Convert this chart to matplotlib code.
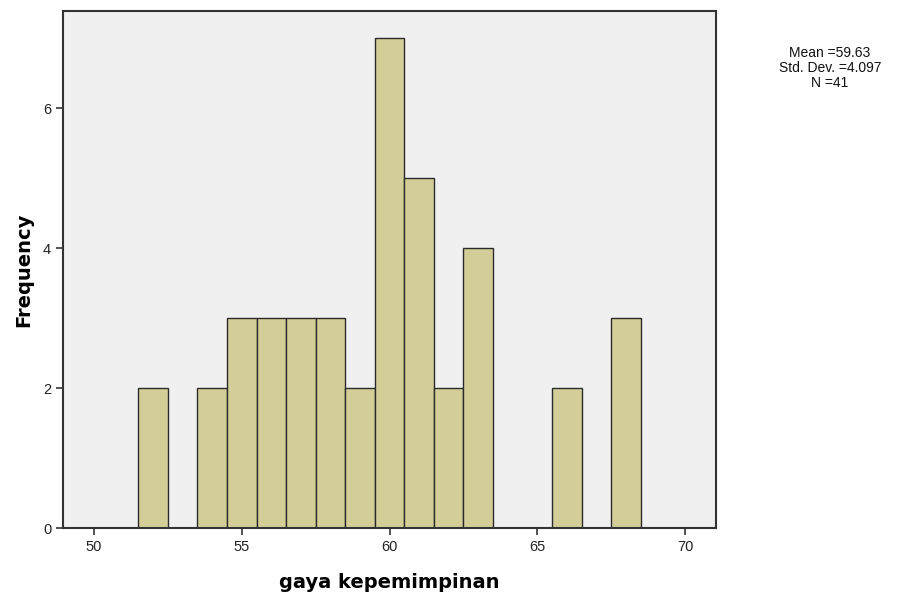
import matplotlib.pyplot as plt

plt.rcParams['font.family'] = ['Liberation Sans', 'DejaVu Sans']

# histogram data (bins of width 1 centred on integers)
bin_centers = [52, 54, 55, 56, 57, 58, 59, 60, 61, 62, 63, 66, 68]
counts = [2, 2, 3, 3, 3, 3, 2, 7, 5, 2, 4, 2, 3]
x_ticks = [50, 55, 60, 65, 70]
y_ticks = [0, 2, 4, 6]
stats_text = "Mean =59.63\nStd. Dev. =4.097\nN =41"

fig = plt.figure(figsize=(9.03, 6), dpi=100)
ax = fig.add_axes([0.0698, 0.12, 0.7232, 0.8617])
ax.set_facecolor('#f0f0f0')

ax.bar(bin_centers, counts, width=1.0, color='#d3ce97',
       edgecolor='#2b2b2b', linewidth=1.0, zorder=2)

ax.set_xlim(48.95, 71.05)
ax.set_ylim(0, 7.39)
ax.set_xticks(x_ticks)
ax.set_yticks(y_ticks)
ax.tick_params(direction='out', length=5, width=1.3, color='#444444',
               labelsize=10.5, labelcolor='#222222')

for s in ax.spines.values():
    s.set_linewidth(1.5)
    s.set_color('#333333')

ax.set_xlabel('gaya kepemimpinan', fontsize=14, fontweight='bold',
              family='DejaVu Sans', labelpad=14)
ax.set_ylabel('Frequency', fontsize=14, fontweight='bold',
              family='DejaVu Sans', labelpad=7)

fig.text(0.919, 0.887, stats_text, ha='center', va='center',
         fontsize=10, linespacing=1.1, color='#111111')

fig.savefig('out.png', dpi=100)
